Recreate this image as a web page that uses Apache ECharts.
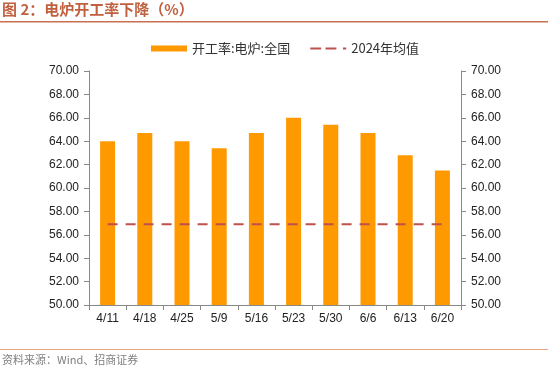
<!DOCTYPE html>
<html><head><meta charset="utf-8">
<script src="https://cdn.jsdelivr.net/npm/echarts@6/dist/echarts.min.js"></script>
<style>html,body{margin:0;padding:0;background:#fff}#c{width:550px;height:380px}</style>
</head><body><div id="c"></div>
<script>
var categories = ['4/11','4/18','4/25','5/9','5/16','5/23','5/30','6/6','6/13','6/20'];
var rateValues = [64.0, 64.7, 64.0, 63.4, 64.7, 66.0, 65.4, 64.7, 62.8, 61.5];
var avg2024Values = [56.9, 56.9, 56.9, 56.9, 56.9, 56.9, 56.9, 56.9, 56.9, 56.9];
var yMin = 50, yMax = 70, yStep = 2;
var seriesNames = ['开工率:电炉:全国', '2024年均值'];

var chart = echarts.init(document.getElementById('c'), null, {renderer: 'canvas'});
var axisFont = {fontFamily: 'Liberation Sans, Arial, sans-serif', fontSize: 12, color: '#222'};
function yAxisCfg(pos) {
  return {
    type: 'value', position: pos, min: yMin, max: yMax, interval: yStep,
    axisLine: {show: true, lineStyle: {color: '#898989', width: 1}},
    axisTick: {show: true, inside: false, length: 5, lineStyle: {color: '#898989'}},
    splitLine: {show: false},
    axisLabel: Object.assign({formatter: function (v) { return v.toFixed(2); }, margin: 10}, axisFont)
  };
}
chart.setOption({
  animation: false,
  backgroundColor: '#fff',
  grid: {left: 89, right: 89, top: 71, bottom: 75, containLabel: false},
  legend: {
    top: 37, left: 146, itemGap: 20, itemWidth: 36, itemHeight: 6,
    textStyle: {fontFamily: 'Noto Sans CJK SC, Liberation Sans, sans-serif', fontSize: 13, color: '#333'},
    data: [
      {name: seriesNames[0], icon: 'rect'},
      {name: seriesNames[1], icon: 'path://M0,0h10v2h-10zM14,0h10v2h-10zM30,0h3v2h-3z'}
    ]
  },
  xAxis: {
    type: 'category', data: categories,
    axisLine: {lineStyle: {color: '#898989'}},
    axisTick: {show: true, length: 5, lineStyle: {color: '#898989'}},
    axisLabel: Object.assign({margin: 8, interval: 0}, axisFont)
  },
  yAxis: [yAxisCfg('left'), yAxisCfg('right')],
  series: [
    {name: seriesNames[0], type: 'bar', data: rateValues, barWidth: 15,
     itemStyle: {color: '#FF9900'}},
    {name: seriesNames[1], type: 'line', data: avg2024Values, symbol: 'none',
     lineStyle: {color: '#C0504D', width: 2, type: [10, 8]}, itemStyle: {color: '#C0504D'}, z: 5}
  ],
  graphic: [
    {type: 'text', left: 2, top: 2, style: {text: '图 2：电炉开工率下降（%）', fontFamily: 'Noto Sans CJK SC, sans-serif', fontSize: 15, fontWeight: 'bold', fill: '#C0603F'}},
    {type: 'rect', left: 0, top: 21, shape: {width: 548, height: 1.5}, style: {fill: '#C8704F'}},
    {type: 'rect', left: 0, top: 349, shape: {width: 548, height: 1}, style: {fill: '#E8A586'}},
    {type: 'text', left: 2, top: 354, style: {text: '资料来源：Wind、招商证券', fontFamily: 'Noto Sans CJK SC, sans-serif', fontSize: 11, fill: '#808080'}}
  ]
});
</script></body></html>
